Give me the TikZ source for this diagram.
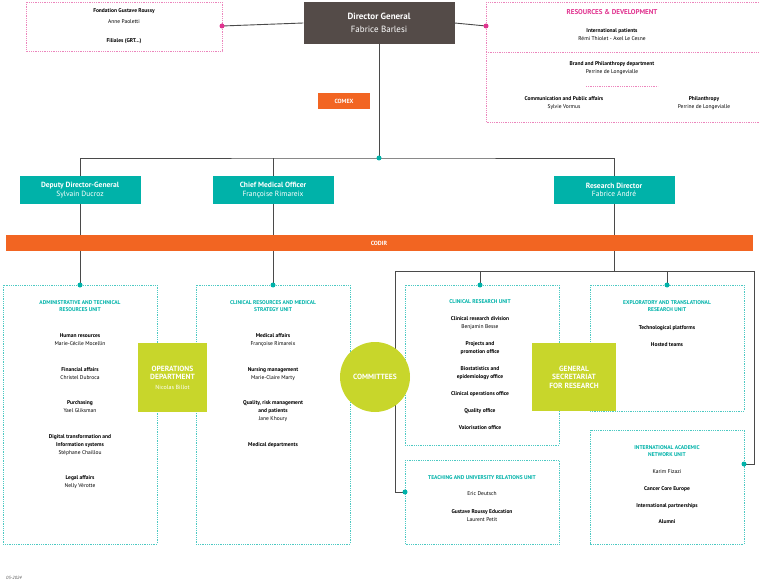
\documentclass[tikz,border=0pt]{standalone}
\usepackage{fontspec}
\setmainfont{PT Sans}
\usetikzlibrary{positioning}
\definecolor{dgbrown}{HTML}{544B48}
\definecolor{grteal}{HTML}{00B2A9}
\definecolor{grorange}{HTML}{F26522}
\definecolor{grgreen}{HTML}{C8D62B}
\definecolor{grpink}{HTML}{E0338F}
\definecolor{grline}{HTML}{4A4A4A}
\begin{document}
\begin{tikzpicture}[
    x=1pt, y=-1pt,
    % Unit boxes
    unitbox/.style={draw=grteal!70, densely dotted, line width=0.8pt},
    pinkbox/.style={draw=grpink!60, densely dotted, line width=0.8pt},
    % Heads
    head/.style={rectangle, fill=grteal, text=white, minimum width=121pt,
        minimum height=28pt, align=center, font=\fontsize{7.5}{8.5}\selectfont, inner sep=0pt},
    greenbox/.style={rectangle, fill=grgreen, text=white, align=center, inner sep=0pt,
        font=\fontsize{7.5}{8.5}\selectfont\bfseries},
    % Texts
    utitle/.style={text=grteal, font=\fontsize{5.5}{7.5}\selectfont\bfseries, align=center, inner sep=0pt},
    item/.style={font=\fontsize{5.5}{8}\selectfont, align=center, inner sep=0pt},
    % Connectors
    link/.style={draw=grline, line width=0.9pt},
    tdot/.style={circle, fill=grteal, inner sep=0pt, minimum size=5pt},
    pdot/.style={circle, fill=grpink, inner sep=0pt, minimum size=5pt}
]
\useasboundingbox (0,0) rectangle (759,585);

% === Top row ===
\draw[pinkbox] (26,2) rectangle (222,51);
\node[item] (fond) at (124,11) {\textbf{Fondation Gustave Roussy}};
\node[item] (anne) at (124,22) {Anne Paoletti};
\node[item] (fil) at (124,41) {\textbf{Filiales (GRT...)}};

\node[rectangle, fill=dgbrown, text=white, minimum width=151pt, minimum height=42pt,
    align=center, inner sep=0pt, font=\fontsize{9}{12.5}\selectfont] (dg) at (379,23)
    {\textbf{Director General}\\Fabrice Barlesi};

\draw[pinkbox] (486,2) rectangle (759,122);
\draw[pinkbox] (486,52) -- (759,52);
\draw[pinkbox] (586,86) -- (658,86);
\node[item, text=grpink, font=\fontsize{7}{8}\selectfont\bfseries] (res) at (612,12) {RESOURCES \& DEVELOPMENT};
\node[item] (intp) at (612,35) {\textbf{International patients}\\Rémi Thiolet - Axel Le Cesne};
\node[item] (brand) at (612,68) {\textbf{Brand and Philanthropy department}\\Perrine de Longevialle};
\node[item] (comm) at (564,103) {\textbf{Communication and Public affairs}\\Sylvie Vormus};
\node[item] (phil) at (704,103) {\textbf{Philanthropy}\\Perrine de Longevialle};

\coordinate (fondR) at (222,26);
\coordinate (resL) at (486,26);
\draw[link] (fondR) -- (dg.west);
\draw[link] (dg.east) -- (resL);
\node[pdot] at (fondR) {};
\node[pdot] at (resL) {};

% === Directors ===
\node[head] (dep) at (80,190) {\textbf{Deputy Director-General}\\Sylvain Ducroz};
\node[head] (cmo) at (273,190) {\textbf{Chief Medical Officer}\\Françoise Rimareix};
\node[head] (rd) at (614,190) {\textbf{Research Director}\\Fabrice André};

\coordinate (hub) at (379,158);
\draw[link] (dg.south) -- (hub);
\draw[link] (dep.north) |- (hub) -| (rd.north);
\draw[link] (cmo.north) -- (cmo.north |- hub);
\node[tdot] at (hub) {};
\node[rectangle, fill=grorange, text=white, minimum width=52pt, minimum height=16pt,
    inner sep=0pt, font=\fontsize{6}{7}\selectfont\bfseries] (comex) at (344,101) {COMEX};

% === Units ===
\draw[unitbox] (3,285) rectangle (157,544);
\draw[unitbox] (196,285) rectangle (350,544);
\draw[unitbox] (405,285) rectangle (559,445);
\draw[unitbox] (590,285) rectangle (744,411);
\draw[unitbox] (405,460) rectangle (559,544);
\draw[unitbox] (590,430) rectangle (744,544);

\coordinate (admT) at (80,285);
\coordinate (clinT) at (273,285);
\coordinate (crT) at (480,285);
\coordinate (expT) at (667,285);
\coordinate (teachL) at (405,492);
\coordinate (intR) at (744,464);
\coordinate (rbus) at (614,271);
\draw[link] (dep.south) -- (admT);
\draw[link] (cmo.south) -- (clinT);
\draw[link] (rd.south) -- (rbus);
\draw[link] (teachL) -| (395,271) -| (754,271) |- (intR);
\draw[link] (crT) -- (crT |- rbus);
\draw[link] (expT) -- (expT |- rbus);
\foreach \p in {admT, clinT, crT, expT, teachL, intR}
    \node[tdot] at (\p) {};

% === CODIR ===
\node[rectangle, fill=grorange, text=white, minimum width=747pt, minimum height=16pt,
    inner sep=0pt, font=\fontsize{6}{7}\selectfont\bfseries] (codir) at (379,243) {CODIR};

% Administrative and technical
\node[utitle] (admtit) at (80,306) {ADMINISTRATIVE AND TECHNICAL\\RESOURCES UNIT};
\node[item] (hr) at (80,340) {\textbf{Human resources}\\Marie-Cécile Mocellin};
\node[item] (fin) at (80,374) {\textbf{Financial affairs}\\Christel Dubroca};
\node[item] (pur) at (80,407) {\textbf{Purchasing}\\Yael Gliksman};
\node[item] (dig) at (80,445) {\textbf{Digital transformation and}\\\textbf{Information systems}\\Stéphane Chaillou};
\node[item] (leg) at (80,482) {\textbf{Legal affairs}\\Nelly Vérotte};

% Clinical resources
\node[utitle] (clintit) at (273,306) {CLINICAL RESOURCES AND MEDICAL\\STRATEGY UNIT};
\node[item] (med) at (273,340) {\textbf{Medical affairs}\\Françoise Rimareix};
\node[item] (nur) at (273,374) {\textbf{Nursing management}\\Marie-Claire Marty};
\node[item] (qual) at (273,411) {\textbf{Quality, risk management}\\\textbf{and patients}\\Jane Khoury};
\node[item] (mdep) at (273,445) {\textbf{Medical departments}};

% Clinical research
\node[utitle] (crtit) at (480,302) {CLINICAL RESEARCH UNIT};
\node[item] (crd) at (480,323) {\textbf{Clinical research division}\\Benjamin Besse};
\node[item] (proj) at (480,348) {\textbf{Projects and}\\\textbf{promotion office}};
\node[item] (bio) at (480,373) {\textbf{Biostatistics and}\\\textbf{epidemiology office}};
\node[item] (cop) at (480,394) {\textbf{Clinical operations office}};
\node[item] (qof) at (480,411) {\textbf{Quality office}};
\node[item] (val) at (480,428) {\textbf{Valorisation office}};

% Exploratory
\node[utitle] (exptit) at (667,306) {EXPLORATORY AND TRANSLATIONAL\\RESEARCH UNIT};
\node[item] (tech) at (667,328) {\textbf{Technological platforms}};
\node[item] (host) at (667,345) {\textbf{Hosted teams}};

% Teaching
\node[utitle] (teachtit) at (482,478) {TEACHING AND UNIVERSITY RELATIONS UNIT};
\node[item] (eric) at (482,494) {Eric Deutsch};
\node[item] (gre) at (482,516) {\textbf{Gustave Roussy Education}\\Laurent Petit};

% International
\node[utitle] (inttit) at (667,451) {INTERNATIONAL ACADEMIC\\NETWORK UNIT};
\node[item] (karim) at (667,472) {Karim Fizazi};
\node[item] (cce) at (667,489) {\textbf{Cancer Core Europe}};
\node[item] (ip) at (667,506) {\textbf{International partnerships}};
\node[item] (alu) at (667,522) {\textbf{Alumni}};

% === Transversal ===
\node[greenbox, minimum width=69pt, minimum height=69pt] (ops) at (172.5,377.5)
    {OPERATIONS\\DEPARTMENT\\[1pt]{\mdseries\fontsize{6}{7}\selectfont Nicolas Billot}};
\node[greenbox, minimum width=84pt, minimum height=68pt] (gsr) at (574,377)
    {GENERAL\\SECRETARIAT\\FOR RESEARCH};
\node[circle, fill=grgreen, text=white, minimum size=70pt, inner sep=0pt,
    font=\fontsize{7.5}{8.5}\selectfont\bfseries] (comm) at (375,377) {COMMITTEES};

\node[font=\fontsize{4.5}{5}\selectfont\itshape, text=black!70] (date) at (14,578) {05-2024};
\end{tikzpicture}
\end{document}
